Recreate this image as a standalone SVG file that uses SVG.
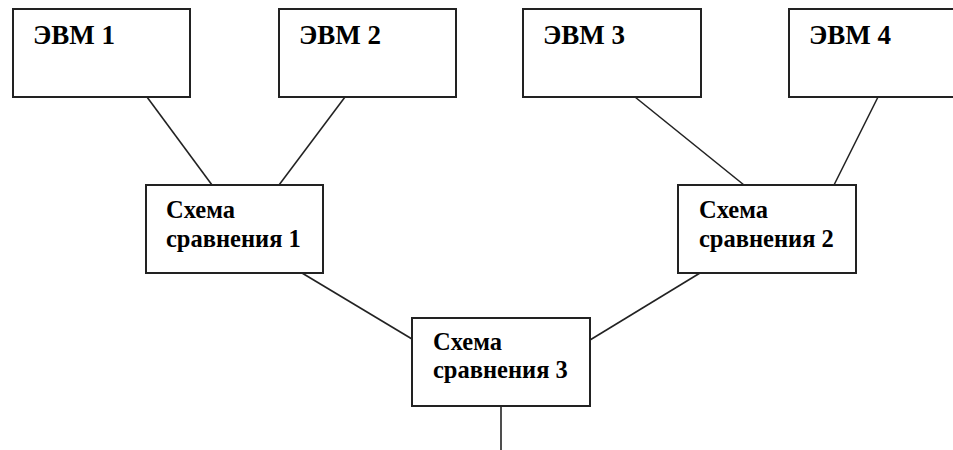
<svg xmlns="http://www.w3.org/2000/svg" width="953" height="450" viewBox="0 0 953 450">
<style>
.box{fill:#fff;stroke:#222;stroke-width:2}
.ln{stroke:#222;stroke-width:1.6;fill:none}
.t{font-family:"Liberation Serif","Times New Roman",serif;font-weight:bold;font-size:27px;fill:#000}
.s{font-family:"Liberation Serif","Times New Roman",serif;font-weight:bold;font-size:24.5px;fill:#000}
</style>
<rect width="953" height="450" fill="#fff"/>
<g id="connectors">
<line class="ln" x1="147" y1="97" x2="212" y2="185"/>
<line class="ln" x1="345" y1="97" x2="279" y2="185"/>
<line class="ln" x1="635" y1="97" x2="744" y2="185"/>
<line class="ln" x1="878" y1="97" x2="834" y2="185"/>
<line class="ln" x1="302" y1="273" x2="412" y2="339"/>
<line class="ln" x1="700" y1="273" x2="590" y2="340"/>
<line class="ln" x1="501" y1="406" x2="501" y2="450"/>
</g>
<g id="evm1"><rect class="box" x="13" y="9" width="177" height="88"/><text class="t" x="33" y="44">ЭВМ 1</text></g>
<g id="evm2"><rect class="box" x="279" y="9" width="177" height="88"/><text class="t" x="299" y="44">ЭВМ 2</text></g>
<g id="evm3"><rect class="box" x="523" y="9" width="178" height="88"/><text class="t" x="543" y="44">ЭВМ 3</text></g>
<g id="evm4"><rect class="box" x="789" y="9" width="178" height="88"/><text class="t" x="809" y="44">ЭВМ 4</text></g>
<g id="cmp1"><rect class="box" x="146" y="185" width="177" height="88"/><text class="s" x="166" y="218">Схема</text><text class="s" x="166" y="247">сравнения 1</text></g>
<g id="cmp2"><rect class="box" x="678" y="185" width="178" height="88"/><text class="s" x="699" y="218">Схема</text><text class="s" x="699" y="247">сравнения 2</text></g>
<g id="cmp3"><rect class="box" x="412" y="318" width="178" height="88"/><text class="s" x="433" y="350">Схема</text><text class="s" x="433" y="378">сравнения 3</text></g>
</svg>
